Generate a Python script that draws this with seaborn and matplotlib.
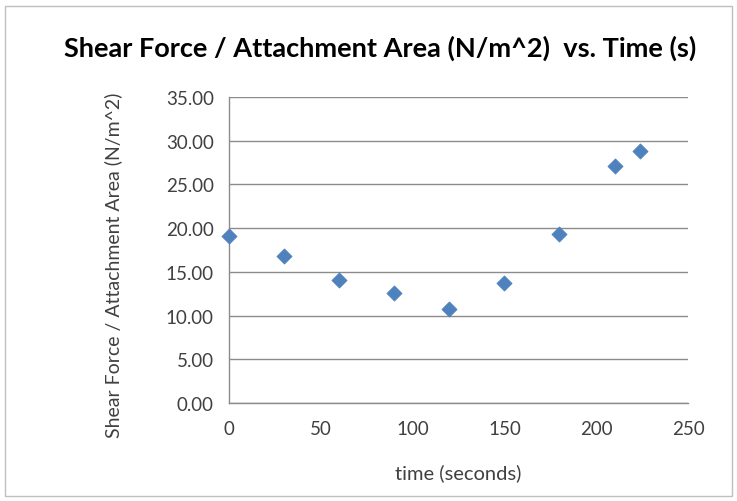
import matplotlib
matplotlib.use("Agg")
import matplotlib.pyplot as plt
import seaborn as sns
import pandas as pd
from matplotlib.patches import Rectangle

time_s = [0, 30, 60, 90, 120, 150, 180, 210, 224]
stress = [19.15, 16.8, 14.07, 12.55, 10.8, 13.69, 19.38, 27.07, 28.82]
x_ticks = [0, 50, 100, 150, 200, 250]
y_ticks = [0, 5, 10, 15, 20, 25, 30, 35]

df = pd.DataFrame({"time": time_s, "stress": stress})

sns.set_style("white")
plt.rcParams['font.family'] = ['Lato', 'DejaVu Sans']

fig = plt.figure(figsize=(7.37, 5.02), dpi=100)
ax = fig.add_axes([229/737, 1 - 404/502, (688-229)/737, (404-98)/502])

sns.scatterplot(data=df, x="time", y="stress", ax=ax, marker="D", s=60,
                color="#4F81BD", edgecolor="#4F81BD", linewidth=0.5, zorder=3,
                clip_on=False)

ax.set_xlim(0, 250)
ax.set_ylim(0, 35)
ax.set_xticks(x_ticks)
ax.set_yticks(y_ticks)
ax.set_xticklabels([str(v) for v in x_ticks], fontsize=13.5, color="#404040")
ax.set_yticklabels([f"{v:.2f}" for v in y_ticks], fontsize=13.5, color="#404040")
ax.yaxis.grid(True, color="#8c8c8c", linewidth=1)
ax.xaxis.grid(False)
ax.set_axisbelow(True)
for side in ["top", "right"]:
    ax.spines[side].set_visible(False)
for side in ["left", "bottom"]:
    ax.spines[side].set_color("#8c8c8c")
    ax.spines[side].set_linewidth(1)
ax.tick_params(axis="x", direction="out", length=5, color="#8c8c8c", width=1, pad=7)
ax.tick_params(axis="y", direction="out", length=5, color="#8c8c8c", width=1, pad=6)

ax.set_xlabel("time (seconds)", fontsize=14.5, color="#404040")
ax.set_ylabel("Shear Force / Attachment Area (N/m^2)", fontsize=14, color="#404040")
ax.xaxis.set_label_coords(0.5, (404 - 473) / 306, transform=ax.transAxes)
ax.xaxis.label.set_va("center")
ax.yaxis.set_label_coords((113 - 229) / 459, (404 - 265) / 306, transform=ax.transAxes)
ax.yaxis.label.set_va("center")

fig.text(380/737, 1 - 48/502, "Shear Force / Attachment Area (N/m^2)  vs. Time (s)",
         ha="center", va="center", fontsize=19.5, fontweight="bold", color="#000000")

fig.patches.append(Rectangle((5/737, 5/502), 727/737, 490/502, transform=fig.transFigure,
                             fill=False, edgecolor="#bfbfbf", linewidth=1))

fig.savefig("out.png", dpi=100)
